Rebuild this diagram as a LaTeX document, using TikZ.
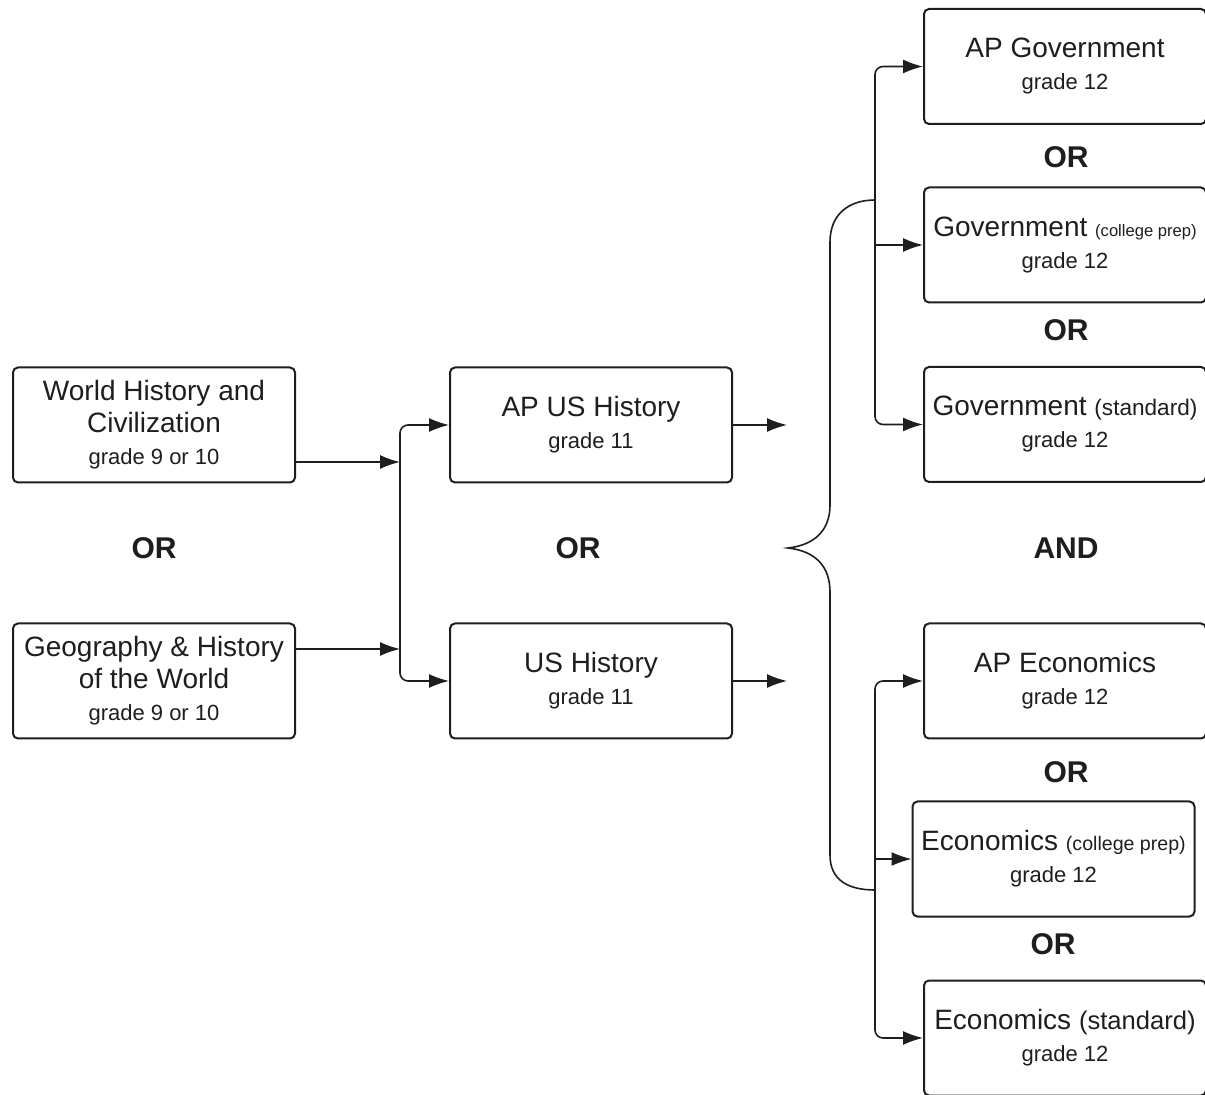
\documentclass[tikz,border=0pt]{standalone}
\usepackage{fontspec}
\setmainfont{Liberation Sans}
\usetikzlibrary{arrows.meta}
\definecolor{ink}{HTML}{1E1E1E}
\tikzset{
  box/.style={draw=ink, line width=1pt, rounded corners=2.5pt, minimum width=141pt, minimum height=57.5pt,
    align=center, inner sep=1pt, text=ink, font=\fontsize{14}{16}\selectfont},
  lbl/.style={font=\bfseries\fontsize{15}{17}\selectfont, text=ink},
  arr/.style={draw=ink, line width=0.8pt, -{Latex[length=10pt,width=7pt]}},
  ln/.style={draw=ink, line width=0.8pt}
}
\newcommand{\grd}[1]{{\fontsize{11}{13}\selectfont #1}}
\begin{document}
\begin{tikzpicture}[x=0.5pt,y=-0.5pt]
\useasboundingbox (0,0) rectangle (1205,1095);
\begin{scope}
\clip (0,0) rectangle (1205,1095);
% left column
\node[box] (WH) at (154,425) {World History and\\Civilization\\\grd{grade 9 or 10}};
\node[box] (GEO) at (154,681) {Geography \& History\\of the World\\\grd{grade 9 or 10}};
\node[lbl] (or1) at (154,548) {OR};
% middle column
\node[box] (APUS) at (591,425) {AP US History\\\grd{grade 11}};
\node[box] (USH) at (591,681) {US History\\\grd{grade 11}};
\node[lbl] (or2) at (578,548) {OR};
% right column
\node[box] (APG) at (1065,66.5) {AP Government\\\grd{grade 12}};
\node[box] (GCP) at (1065,245) {Government {\fontsize{8.3}{10}\selectfont (college prep)}\\\grd{grade 12}};
\node[box] (GST) at (1065,424.5) {Government {\fontsize{11.3}{13}\selectfont (standard)}\\\grd{grade 12}};
\node[box] (APE) at (1065,681) {AP Economics\\\grd{grade 12}};
\node[box] (ECP) at (1053.5,859) {Economics {\fontsize{9.8}{12}\selectfont (college prep)}\\\grd{grade 12}};
\node[box] (EST) at (1065,1038) {Economics {\fontsize{12.8}{14}\selectfont (standard)}\\\grd{grade 12}};
\node[lbl] (or3) at (1066,157) {OR};
\node[lbl] (or4) at (1066,330) {OR};
\node[lbl] (and) at (1066,548) {AND};
\node[lbl] (or5) at (1066,772) {OR};
\node[lbl] (or6) at (1053,944) {OR};
% left junction
\coordinate (j1) at (400,462);
\coordinate (j2) at (400,649);
\draw[arr] (WH.east |- j1) -- (j1);
\draw[arr] (GEO.east |- j2) -- (j2);
\draw[ln] (j1) -- (j2);
\draw[arr, rounded corners=4pt] (j1) |- (APUS.west);
\draw[arr, rounded corners=4pt] (j2) |- (USH.west);
% free arrows from middle boxes
\coordinate (e1) at (787,425);
\coordinate (e2) at (787,681);
\draw[arr] (APUS.east) -- (e1);
\draw[arr] (USH.east) -- (e2);
% brace
\coordinate (bt) at (875,200);
\coordinate (bb) at (875,890);
\coordinate (tip) at (788,548);
\draw[ln] (bt) .. controls (848,200) and (830,215) .. (830,242) -- (830,505)
  .. controls (830,530) and (815,545) .. (tip)
  .. controls (815,551) and (830,566) .. (830,592) -- (830,855)
  .. controls (830,880) and (848,890) .. (bb);
% right branches, top
\draw[arr, rounded corners=4pt] (bt) |- (APG.west);
\draw[arr, rounded corners=4pt] (bt) |- (GST.west);
\draw[arr] (bt |- GCP.west) -- (GCP.west);
% right branches, bottom
\draw[arr, rounded corners=4pt] (bb) |- (APE.west);
\draw[arr, rounded corners=4pt] (bb) |- (EST.west);
\draw[arr] (bb |- ECP.west) -- (ECP.west);
\end{scope}
\end{tikzpicture}
\end{document}
